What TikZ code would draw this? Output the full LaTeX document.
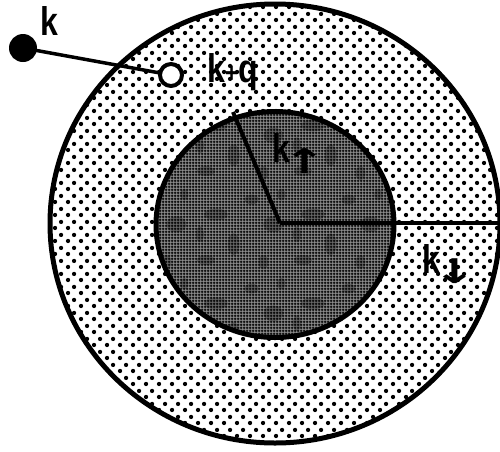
\documentclass[tikz,border=0pt]{standalone}
\usepackage{fontspec}
\setsansfont{Liberation Sans}
\newfontfamily\arrowfont{DejaVu Sans}
\usetikzlibrary{patterns.meta}

\tikzdeclarepattern{
  name=ringdots,
  type=uncolored,
  bounding box={(0pt,0pt) and (13pt,13pt)},
  tile size={(13pt,13pt)},
  code={
    \fill (3.25pt,3.25pt) circle (2.3pt);
    \fill (9.75pt,9.75pt) circle (2.3pt);
  }
}
\tikzdeclarepattern{
  name=meshgrid,
  type=uncolored,
  bounding box={(0pt,0pt) and (3pt,3pt)},
  tile size={(3pt,3pt)},
  code={
    \fill (0pt,0.9pt) rectangle (3pt,2.1pt);
    \fill (0.9pt,0pt) rectangle (2.1pt,3pt);
  }
}
\tikzdeclarepattern{
  name=blotches,
  type=uncolored,
  bounding box={(0pt,0pt) and (97pt,89pt)},
  tile size={(97pt,89pt)},
  code={
    \fill (12pt,14pt) ellipse [x radius=9pt, y radius=5pt];
    \fill (40pt,30pt) ellipse [x radius=6pt, y radius=11pt];
    \fill (22pt,60pt) ellipse [x radius=12pt, y radius=6pt];
    \fill (70pt,12pt) ellipse [x radius=5pt, y radius=7pt];
    \fill (80pt,50pt) ellipse [x radius=10pt, y radius=8pt];
    \fill (58pt,75pt) ellipse [x radius=7pt, y radius=5pt];
    \fill (88pt,80pt) ellipse [x radius=4pt, y radius=6pt];
    \fill (6pt,40pt) ellipse [x radius=4pt, y radius=8pt];
  }
}

\tikzset{
  rim/.style={line width=5pt},
  radius line/.style={line width=4pt},
  lbl/.style={font=\sffamily\bfseries\fontsize{40}{40}\selectfont, inner sep=0pt, anchor=base west},
}

\newcommand{\narrow}[1]{\scalebox{0.8}[1]{#1}}
\newcommand{\spinarrow}[1]{{\arrowfont\bfseries\fontsize{34}{34}\selectfont\scalebox{1.5}[1]{#1}}}

\begin{document}
\begin{tikzpicture}[x=1pt,y=-1pt]
\useasboundingbox (0,0) rectangle (500,451);

% outer shell
\coordinate (oc) at (275,223.5);
\fill[white] (oc) ellipse [x radius=225pt, y radius=219.5pt];
\path[pattern={ringdots}, pattern color=black] (oc) ellipse [x radius=225pt, y radius=219.5pt];
\draw[rim] (oc) ellipse [x radius=225pt, y radius=219.5pt];

% inner sphere
\coordinate (ic) at (275,224.5);
\fill[black!45] (ic) ellipse [x radius=119pt, y radius=113pt];
\path[pattern={meshgrid}, pattern color=black] (ic) ellipse [x radius=119pt, y radius=113pt];
\path[pattern={blotches}, pattern color=black, opacity=0.25] (ic) ellipse [x radius=119pt, y radius=113pt];
\draw[rim] (ic) ellipse [x radius=119pt, y radius=113pt];

% radii
\coordinate (c) at (280,223);
\coordinate (kup) at (233,112);
\coordinate (kdn) at (502,223);
\draw[radius line] (c) -- (kup);
\draw[radius line] (c) -- (kdn);

% k and k+q
\node[circle, fill=black, inner sep=0pt, minimum size=28pt] (k) at (23,48) {};
\node[circle, draw=black, fill=white, line width=4pt, inner sep=0pt, minimum size=22pt] (kq) at (171,75) {};
\draw[line width=3.5pt] (k.center) -- (kq);

% labels
\node[lbl] (lk) at (40,35) {\narrow{k}};
\node[lbl] (lkq) at (207,82) {\narrow{k{\fontsize{28}{28}\selectfont+}q}};
\node[lbl] (lkup) at (272,162) {\narrow{k}\kern-7pt\raisebox{-11pt}{\spinarrow{↑}}};
\node[lbl] (lkdn) at (422,273) {\narrow{k}\kern-7pt\raisebox{-10pt}{\spinarrow{↓}}};
\end{tikzpicture}
\end{document}
